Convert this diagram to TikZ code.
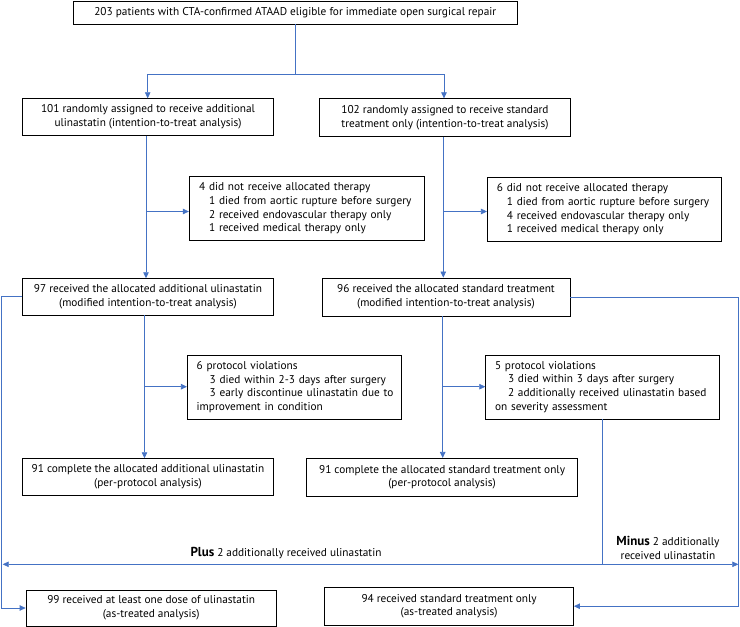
\documentclass[tikz,border=0pt]{standalone}
\usepackage{fontspec}
\setmainfont{PT Sans}
\usetikzlibrary{arrows.meta}
\definecolor{lc}{HTML}{4472C4}
\newcommand\boxfont{\fontsize{11.3}{13.7}\selectfont}
\newcommand\bigbold{\fontsize{13}{14}\selectfont\bfseries}
\begin{document}
\begin{tikzpicture}[x=1pt,y=-1pt,
  box/.style={draw=black, line width=0.8pt, inner sep=0pt, align=center, font=\boxfont},
  detail/.style={box, align=left},
  ln/.style={draw=lc, line width=0.75pt},
  arr/.style={ln, -{Triangle[length=6pt,width=5.5pt]}},
  darr/.style={ln, {Triangle[length=6pt,width=5.5pt]}-{Triangle[length=6pt,width=5.5pt]}},
  lab/.style={inner sep=0pt, align=center, font=\boxfont}
]
\useasboundingbox (0,0) rectangle (740,627);

\node[box, minimum width=444.5pt, minimum height=23pt] (top) at (295.3,12.5)
  {203 patients with CTA-confirmed ATAAD eligible for immediate open surgical repair};
\node[box, minimum width=250.6pt, minimum height=36.6pt] (L1) at (148,117)
  {101 randomly assigned to receive additional\\ulinastatin (intention-to-treat analysis)};
\node[box, minimum width=251pt, minimum height=37.5pt] (R1) at (445,117.5)
  {102 randomly assigned to receive standard\\treatment only (intention-to-treat analysis)};
\node[detail, minimum width=234.7pt, minimum height=63.3pt, text width=215pt] (Ld1) at (306.6,208.4)
  {\mbox{4 did not receive allocated therapy}\\
   \mbox{\hspace*{10pt}1 died from aortic rupture before surgery}\\
   \mbox{\hspace*{10pt}2 received endovascular therapy only}\\
   \mbox{\hspace*{10pt}1 received medical therapy only}};
\node[detail, minimum width=233.7pt, minimum height=64pt, text width=214.5pt] (Rd1) at (604.2,209.3)
  {\mbox{6 did not receive allocated therapy}\\
   \mbox{\hspace*{10pt}1 died from aortic rupture before surgery}\\
   \mbox{\hspace*{10pt}4 received endovascular therapy only}\\
   \mbox{\hspace*{10pt}1 received medical therapy only}};
\node[box, minimum width=250.6pt, minimum height=36.3pt] (L2) at (148,296.8)
  {97 received the allocated additional ulinastatin\\(modified intention-to-treat analysis)};
\node[box, minimum width=248pt, minimum height=38pt] (R2) at (446,297)
  {96 received the allocated standard treatment\\(modified intention-to-treat analysis)};
\node[detail, minimum width=213.7pt, minimum height=64pt, text width=195pt] (Lp) at (294.2,387)
  {\mbox{6 protocol violations}\\
   \mbox{\hspace*{13pt}3 died within 2-3 days after surgery}\\
   \mbox{\hspace*{13pt}3 early discontinue ulinastatin due to}\\
   \mbox{improvement in condition}};
\node[detail, minimum width=233.6pt, minimum height=64pt, text width=215pt] (Rp) at (602.5,387)
  {\mbox{5 protocol violations}\\
   \mbox{\hspace*{13pt}3 died within 3 days after surgery}\\
   \mbox{\hspace*{13pt}2 additionally received ulinastatin based}\\
   \mbox{on severity assessment}};
\node[box, minimum width=250.6pt, minimum height=36.3pt] (L3) at (148,476.8)
  {91 complete the allocated additional ulinastatin\\(per-protocol analysis)};
\node[box, minimum width=270.8pt, minimum height=37.7pt] (R3) at (442.1,477.2)
  {91 complete the allocated standard treatment only\\(per-protocol analysis)};
\node[box, minimum width=250.3pt, minimum height=36pt] (L4) at (151.2,608)
  {99 received at least one dose of ulinastatin\\(as-treated analysis)};
\node[box, minimum width=248.8pt, minimum height=37.7pt] (R4) at (449.1,606.2)
  {94 received standard treatment only\\(as-treated analysis)};

\node[lab] (plus) at (286,553) {{\bigbold Plus} 2 additionally received ulinastatin};
\node[lab] (minus) at (668,548) {{\bigbold Minus} 2 additionally\\received ulinastatin};

\coordinate (ysplit) at (0,74);
\coordinate (b1) at (0,211.5);
\coordinate (b2) at (0,386.7);
\coordinate (cL1) at (147.7,0);
\coordinate (cL2) at (146,0);
\coordinate (cL3) at (144.5,0);
\coordinate (cR1) at (444,0);
\coordinate (cR2) at (443.3,0);
\coordinate (cR3) at (442.7,0);
\coordinate (xl) at (1,0);
\coordinate (xr) at (738.3,0);
\coordinate (dl) at (2.7,564.3);
\coordinate (dr) at (738.3,564.3);

\draw[ln] (top.south) -- (top.south |- ysplit);
\draw[arr] (top.south |- ysplit) -| (cL1 |- L1.north);
\draw[arr] (top.south |- ysplit) -| (cR1 |- R1.north);
\draw[arr] (cL2 |- L1.south) -- (cL2 |- L2.north);
\draw[arr] (cL2 |- b1) -- (Ld1.west |- b1);
\draw[arr] (cR2 |- R1.south) -- (cR2 |- R2.north);
\draw[arr] (cR2 |- b1) -- (Rd1.west |- b1);
\draw[arr] (cL3 |- L2.south) -- (cL3 |- L3.north);
\draw[arr] (cL3 |- b2) -- (Lp.west |- b2);
\draw[arr] (cR3 |- R2.south) -- (cR3 |- R3.north);
\draw[arr] (cR3 |- b2) -- (Rp.west |- b2);
\draw[arr] (L2.west) -- (xl |- L2.west) -- (xl |- L4.west) -- (L4.west);
\draw[arr] (R2.east) -- (xr |- R2.east) -- (xr |- R4.east) -- (R4.east);
\draw[darr] (dl) -- (dr);
\draw[ln] (Rp.south) -- (Rp.south |- dl);
\end{tikzpicture}
\end{document}
